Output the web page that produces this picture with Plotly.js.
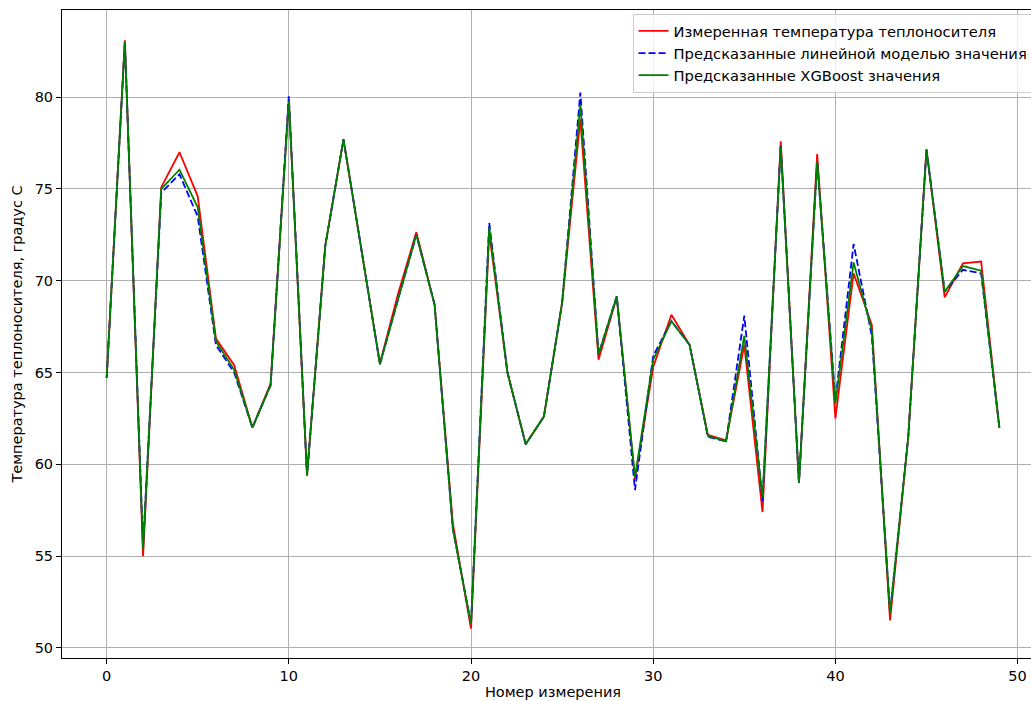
<!DOCTYPE html>
<html>
<head>
<meta charset="utf-8">
<script src="https://cdn.plot.ly/plotly-3.0.1.min.js"></script>
<style>
html, body { margin: 0; padding: 0; overflow: hidden; background: #fff; width: 1031px; height: 701px; }
#chart { width: 1046px; height: 720px; }
</style>
</head>
<body>
<div id="chart"></div>
<script>
const measured = [64.7, 83.1, 55.0, 75.1, 77.0, 74.6, 66.85, 65.4, 62.0, 64.4,
  79.9, 59.4, 71.9, 77.7, 71.6, 65.5, 69.3, 72.65, 68.7, 56.8,
  51.05, 72.6, 65.0, 61.1, 62.6, 68.8, 78.8, 65.7, 69.1, 59.2,
  65.3, 68.15, 66.5, 61.6, 61.3, 66.5, 57.4, 77.6, 59.0, 76.9,
  62.5, 70.4, 67.6, 51.5, 61.5, 77.15, 69.1, 70.95, 71.05, 62.0];
const linearPred = [64.7, 83.0, 55.5, 74.8, 75.8, 73.5, 66.5, 65.0, 62.0, 64.3,
  80.05, 59.4, 71.9, 77.7, 71.6, 65.45, 69.0, 72.5, 68.7, 56.5,
  51.3, 73.15, 65.0, 61.1, 62.6, 68.8, 80.25, 66.0, 69.15, 58.6,
  65.9, 67.8, 66.5, 61.5, 61.25, 68.1, 58.0, 77.4, 59.0, 76.5,
  63.5, 72.0, 67.0, 51.9, 61.5, 77.15, 69.4, 70.6, 70.4, 62.0];
const xgbPred = [64.7, 83.0, 55.4, 75.0, 76.05, 74.0, 66.7, 65.15, 62.0, 64.3,
  79.8, 59.4, 71.9, 77.7, 71.6, 65.45, 69.0, 72.5, 68.7, 56.5,
  51.3, 72.9, 65.0, 61.1, 62.6, 68.8, 79.6, 66.0, 69.15, 59.3,
  65.7, 67.8, 66.5, 61.55, 61.25, 67.0, 58.2, 77.3, 59.0, 76.5,
  63.3, 71.0, 67.3, 51.9, 61.5, 77.15, 69.4, 70.8, 70.55, 62.0];
const idx = measured.map((_, i) => i);
const names = ["Измеренная температура теплоносителя",
  "Предсказанные линейной моделью значения",
  "Предсказанные XGBoost значения"];
const xTicks = [0, 10, 20, 30, 40, 50];
const yTicks = [50, 55, 60, 65, 70, 75, 80];

const font = { family: "DejaVu Sans, sans-serif", size: 14.5, color: "#000" };
const legendFont = { family: "DejaVu Sans, sans-serif", size: 14.7, color: "#000" };

const traces = [
  { x: idx, y: measured, name: names[0], type: "scatter", mode: "lines",
    line: { color: "#ff0000", width: 1.8 } },
  { x: idx, y: linearPred, name: names[1], type: "scatter", mode: "lines",
    line: { color: "#0000ff", width: 1.8, dash: "7px,3px" } },
  { x: idx, y: xgbPred, name: names[2], type: "scatter", mode: "lines",
    line: { color: "#008000", width: 1.8 } }
];

const layout = {
  width: 1046, height: 720,
  margin: { l: 62, r: 2, t: 10, b: 62 },
  paper_bgcolor: "#fff", plot_bgcolor: "#fff",
  font: font,
  showlegend: true,
  legend: {
    x: 0.581, y: 0.994, xanchor: "left", yanchor: "top",
    bgcolor: "rgba(255,255,255,0.8)", bordercolor: "#cccccc", borderwidth: 1,
    font: legendFont, itemwidth: 30, tracegroupgap: 0
  },
  xaxis: {
    range: [-2.45, 51.45],
    tickvals: xTicks, ticktext: xTicks.map(String),
    showgrid: true, gridcolor: "#b0b0b0", gridwidth: 1,
    zeroline: false, showline: true, linecolor: "#000", linewidth: 1, mirror: true,
    ticks: "outside", ticklen: 5, tickcolor: "#000", tickfont: font,
    title: { text: "Номер измерения", font: font, standoff: 3 }
  },
  yaxis: {
    range: [49.45, 84.75],
    tickvals: yTicks, ticktext: yTicks.map(String),
    showgrid: true, gridcolor: "#b0b0b0", gridwidth: 1,
    zeroline: false, showline: true, linecolor: "#000", linewidth: 1, mirror: true,
    ticks: "outside", ticklen: 5, tickcolor: "#000", tickfont: font,
    title: { text: "Температура теплоносителя, градус С", font: font, standoff: 8 }
  }
};

Plotly.newPlot("chart", traces, layout, { displayModeBar: false, staticPlot: true });
</script>
</body>
</html>
